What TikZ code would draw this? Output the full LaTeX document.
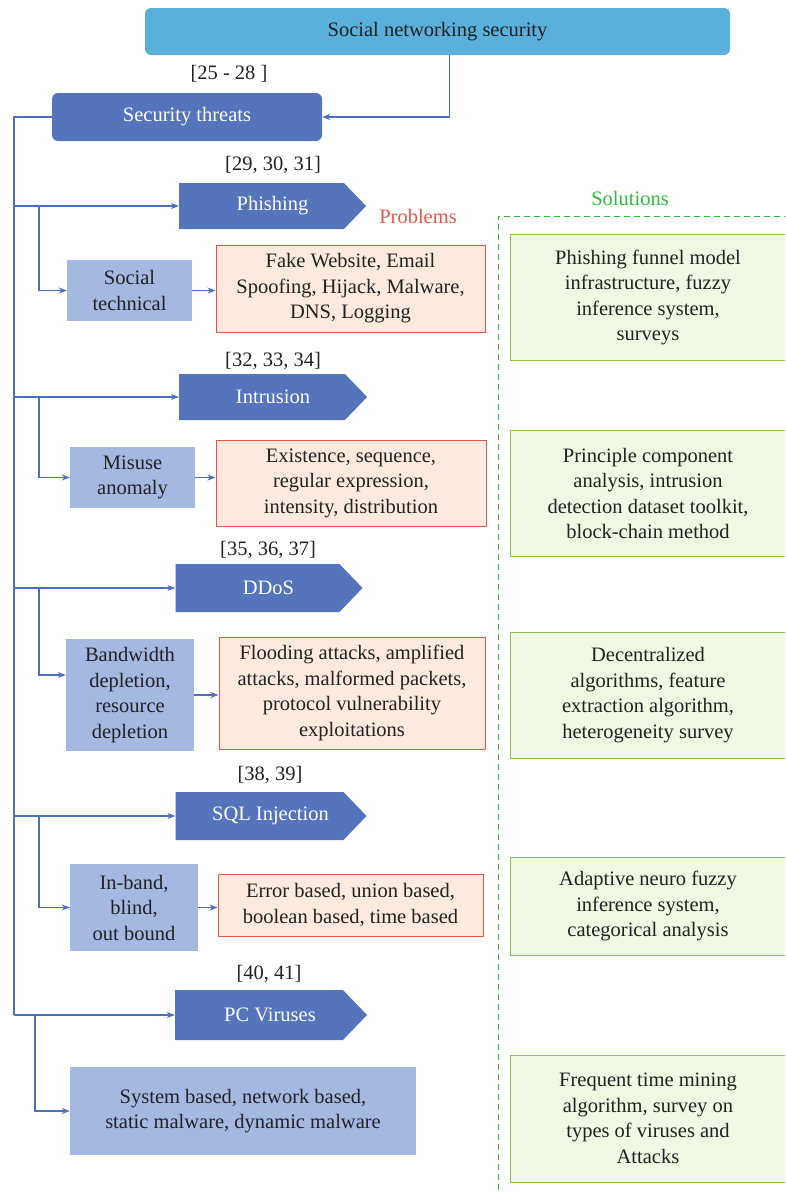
\documentclass[tikz,border=0pt]{standalone}
\usepackage{fontspec}
\setmainfont{Liberation Serif}
\usetikzlibrary{positioning,shapes.symbols,arrows.meta}
\definecolor{rootBlue}{HTML}{5BAFDB}
\definecolor{threatBlue}{HTML}{5474BB}
\definecolor{subBlue}{HTML}{A4B8E2}
\definecolor{probFill}{HTML}{FDEADF}
\definecolor{probRed}{HTML}{E8574A}
\definecolor{solFill}{HTML}{EEF8E3}
\definecolor{solGreen}{HTML}{8DC153}
\definecolor{dashGreen}{HTML}{2DBE3C}
\definecolor{lineBlue}{HTML}{4E6FBE}
\definecolor{inkDark}{HTML}{222222}

\begin{document}
\begin{tikzpicture}[
                x=1pt, y=-1pt,
                every node/.style={font=\fontsize{20.5}{25.5}\selectfont, text=inkDark, align=center, inner sep=2pt},
                rootbox/.style={fill=rootBlue, rounded corners=6pt, minimum width=585pt, minimum height=47pt},
                threatbox/.style={fill=threatBlue, rounded corners=6pt, text=white, minimum width=270pt, minimum height=48pt},
                attackbox/.style={signal, signal to=east, signal pointer angle=92, fill=threatBlue, text=white,
                                  minimum height=46pt},
                subbox/.style={fill=subBlue, minimum width=125pt},
                probbox/.style={fill=probFill, draw=probRed, line width=1pt},
                solbox/.style={fill=solFill, draw=solGreen, line width=1pt, minimum width=276pt, minimum height=126pt},
                cite/.style={text=inkDark},
                arrow/.style={-{Stealth[length=8pt,width=6pt]}, line width=1.3pt, color=lineBlue},
                link/.style={line width=1.3pt, color=lineBlue}
            ]
                \clip (0,0) rectangle (785,1194);

                % top of the tree
                \node[rootbox] (root) at (437.5,31.5) {Social networking security};
                \node[threatbox] (threats) at (187,117) {Security threats};
                \node[cite] at (229,74) {[25 - 28 ]};
                \draw[arrow] ([xshift=12pt]root.south) |- (threats.east);

                % headings of the two columns
                \node[text=probRed] (problems) at (418,216) {Problems};
                \node[text=dashGreen] (solutions) at (630,198) {Solutions};
                \draw[dashGreen, line width=1pt, dash pattern=on 6pt off 4pt] (498,1200) -- (498,216) -- (800,216);

                % attacks (text pushed right so it sits in the middle of body and tip)
                \node[attackbox, minimum width=187pt] (t1) at (261.5,206) {\hspace*{22pt}Phishing};
                \node[attackbox, minimum width=188pt] (t2) at (262,397) {\hspace*{22pt}Intrusion};
                \node[attackbox, minimum width=187pt, minimum height=48pt] (t3) at (257.5,588) {\hspace*{22pt}DDoS};
                \node[attackbox, minimum width=191pt, minimum height=48pt] (t4) at (259.5,816) {\hspace*{22pt}SQL Injection};
                \node[attackbox, minimum width=192pt, minimum height=50pt] (t5) at (259,1015) {\hspace*{22pt}PC Viruses};

                \node[cite] at (273,165) {[29, 30, 31]};
                \node[cite] at (273,361) {[32, 33, 34]};
                \node[cite] at (268,550) {[35, 36, 37]};
                \node[cite] at (270,775) {[38, 39]};
                \node[cite] at (269,974) {[40, 41]};

                % kinds of each attack
                \node[subbox, minimum height=61pt] (s1) at (129.5,290.5) {Social\\technical};
                \node[subbox, minimum height=61pt] (s2) at (132.5,477.5) {Misuse\\anomaly};
                \node[subbox, minimum width=128pt, minimum height=112pt] (s3) at (130,695) {Bandwidth\\depletion,\\resource\\depletion};
                \node[subbox, minimum width=128pt, minimum height=87pt] (s4) at (134,907.5) {In-band,\\blind,\\out bound};
                \node[subbox, minimum width=346pt, minimum height=88pt] (s5) at (243,1111) {System based, network based,\\static malware, dynamic malware};

                % problems
                \node[probbox, minimum width=269pt, minimum height=87pt] (p1) at (350.5,288.5) {Fake Website, Email\\Spoofing, Hijack, Malware,\\DNS, Logging};
                \node[probbox, minimum width=270pt, minimum height=86pt] (p2) at (351,483) {Existence, sequence,\\regular expression,\\intensity, distribution};
                \node[probbox, minimum width=266pt, minimum height=112pt] (p3) at (352,693) {Flooding attacks, amplified\\attacks, malformed packets,\\protocol vulnerability\\exploitations};
                \node[probbox, minimum width=265pt, minimum height=62pt] (p4) at (350.5,905) {Error based, union based,\\boolean based, time based};

                % solutions
                \node[solbox] (o1) at (648,297.5) {Phishing funnel model\\infrastructure, fuzzy\\inference system,\\surveys};
                \node[solbox] (o2) at (648,493.5) {Principle component\\analysis, intrusion\\detection dataset toolkit,\\block-chain method};
                \node[solbox] (o3) at (648,695) {Decentralized\\algorithms, feature\\extraction algorithm,\\heterogeneity survey};
                \node[solbox, minimum height=98pt] (o4) at (648,906) {Adaptive neuro fuzzy\\inference system,\\categorical analysis};
                \node[solbox, minimum height=127pt] (o5) at (648,1118.5) {Frequent time mining\\algorithm, survey on\\types of viruses and\\Attacks};

                % trunk on the left
                \coordinate (trunktop) at (14,117);
                \coordinate (trunkbot) at (14,1015);
                \draw[link] (threats.west) -- (trunktop) -- (trunkbot);

                \foreach \t/\s/\bx in {t1/s1/39, t2/s2/39, t4/s4/39, t5/s5/35} {
                    \draw[arrow] (\t.west -| trunktop) -- (\t.west);
                    \draw[arrow] (\t.west -| \bx,0) |- (\s.west);
                }
                \draw[arrow] (t3.west -| trunktop) -- (t3.west);
                \draw[arrow] (t3.west -| 39,0) |- ([yshift=20pt]s3.west);

                \foreach \s/\p in {s1/p1, s2/p2, s3/p3, s4/p4}
                    \draw[arrow] (\s.east) -- (\s.east -| \p.west);

            \end{tikzpicture}
\end{document}
